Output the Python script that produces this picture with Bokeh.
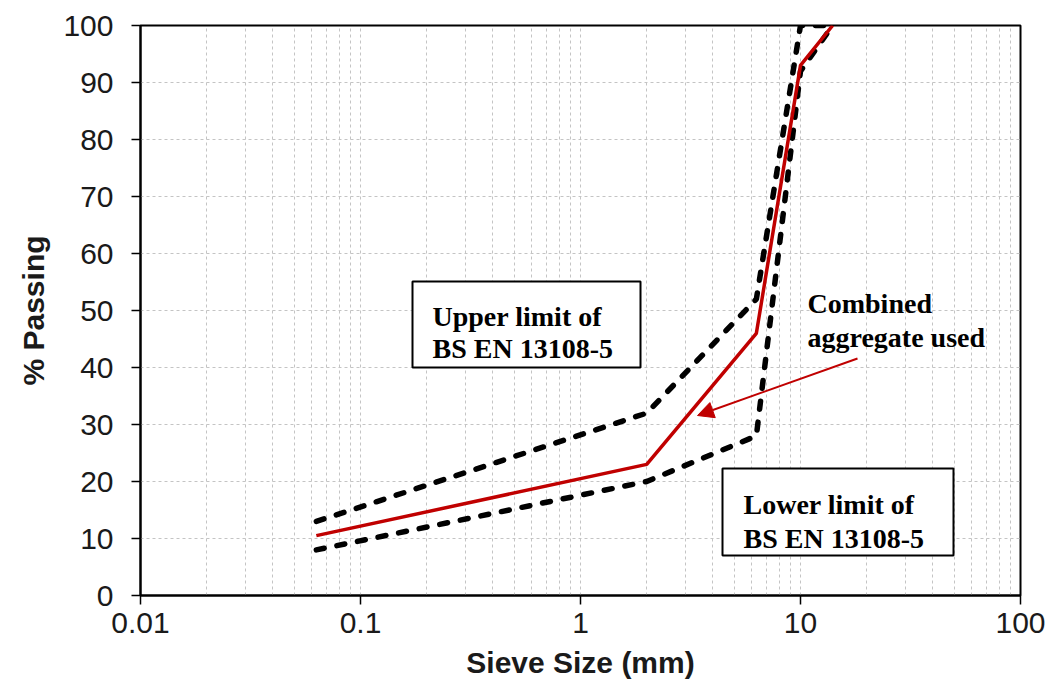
import math
from bokeh.plotting import figure
from bokeh.models import (Range1d, FixedTicker, CustomJSTickFormatter, Label,
                          BoxAnnotation, Arrow, NormalHead)
from bokeh.embed import file_html
from bokeh.resources import INLINE

# ---------------- data ----------------
sieve_mm = [0.063, 2, 6.3, 10, 14]
upper_limit = [13, 32, 52, 100, 100]
lower_limit = [8, 20, 28, 92, 100]
combined = [10.5, 23, 46, 93, 100]

x_major_ticks = [0.01, 0.1, 1, 10, 100]
y_ticks = [0, 10, 20, 30, 40, 50, 60, 70, 80, 90, 100]

# ---------------- layout helpers (frame pixel -> data) ----------------
FR_L, FR_R, FR_T, FR_B = 140, 1020, 25, 595


def px_x(px):
    return 10 ** (-2 + 4 * (px - FR_L) / (FR_R - FR_L))


def px_y(py):
    return 100 * (FR_B - py) / (FR_B - FR_T)


p = figure(width=1052, height=697, x_axis_type="log",
           x_range=Range1d(0.01, 100), y_range=Range1d(0, 100),
           output_backend="svg", toolbar_location=None,
           min_border_left=FR_L, min_border_right=1052 - FR_R,
           min_border_top=FR_T, min_border_bottom=697 - FR_B)

p.outline_line_color = "black"
p.outline_line_width = 2
p.background_fill_color = "white"
p.border_fill_color = "white"

minor = [k * 10 ** e for e in range(-2, 2) for k in range(2, 10)]
p.xaxis.ticker = FixedTicker(ticks=x_major_ticks, minor_ticks=minor)
p.xaxis.formatter = CustomJSTickFormatter(code="return tick.toString();")
p.yaxis.ticker = FixedTicker(ticks=y_ticks)

grid_col = "#c4c4c4"
p.xgrid.grid_line_color = grid_col
p.xgrid.grid_line_dash = "3 3"
p.xgrid.grid_line_width = 1
p.xgrid.minor_grid_line_color = grid_col
p.xgrid.minor_grid_line_dash = "3 3"
p.xgrid.minor_grid_line_width = 1
p.ygrid.grid_line_color = grid_col
p.ygrid.grid_line_dash = "3 3"
p.ygrid.grid_line_width = 1

for ax in (p.xaxis, p.yaxis):
    ax.axis_line_color = "black"
    ax.axis_line_width = 2
    ax.major_tick_line_color = "black"
    ax.major_tick_line_width = 1.5
    ax.major_tick_in = 0
    ax.major_tick_out = 9
    ax.minor_tick_line_color = None
    ax.major_label_text_font = "Liberation Sans"
    ax.major_label_text_font_size = "30px"
    ax.major_label_text_color = "#1a1a1a"
    ax.axis_label_text_font = "Liberation Sans"
    ax.axis_label_text_font_size = "30px"
    ax.axis_label_text_font_style = "bold"
    ax.axis_label_text_color = "#1a1a1a"

p.xaxis.axis_label = "Sieve Size (mm)"
p.yaxis.axis_label = "% Passing"
p.xaxis.major_label_standoff = 8
p.xaxis.axis_label_standoff = 10
p.yaxis.major_label_standoff = 18
p.yaxis.axis_label_standoff = 10

# ---------------- series ----------------
p.line(sieve_mm, upper_limit, line_color="black", line_width=5.5, line_dash="8 13", line_cap="round")
p.line(sieve_mm, lower_limit, line_color="black", line_width=5.5, line_dash="8 13", line_cap="round")
p.line(sieve_mm, combined, line_color="#c00000", line_width=3.5)

# ---------------- annotations ----------------
box_kw = dict(fill_color="white", fill_alpha=1.0, line_color="black", line_width=2, line_alpha=1.0)
p.add_layout(BoxAnnotation(left=px_x(412), right=px_x(640), top=px_y(281), bottom=px_y(367), **box_kw))
p.add_layout(BoxAnnotation(left=px_x(722), right=px_x(953), top=px_y(468), bottom=px_y(555), **box_kw))

lab_kw = dict(text_font="Liberation Serif", text_font_style="bold", text_font_size="28px",
              text_color="black", text_baseline="alphabetic", text_align="left")
texts = [
    ("Upper limit of", 432, 316),
    ("BS EN 13108-5", 432, 348),
    ("Lower limit  of", 743, 504),
    ("BS EN 13108-5", 743, 538),
    ("Combined", 807, 303),
    ("aggregate used", 807, 337),
]
for t, tx, ty in texts:
    p.add_layout(Label(x=px_x(tx), y=px_y(ty), text=t, **lab_kw))

p.add_layout(Arrow(x_start=px_x(857), y_start=px_y(358), x_end=px_x(697), y_end=px_y(415),
                   line_color="#c00000", line_width=2,
                   end=NormalHead(size=16, fill_color="#c00000", line_color="#c00000")))

open("out.html", "w").write(file_html(p, INLINE))
